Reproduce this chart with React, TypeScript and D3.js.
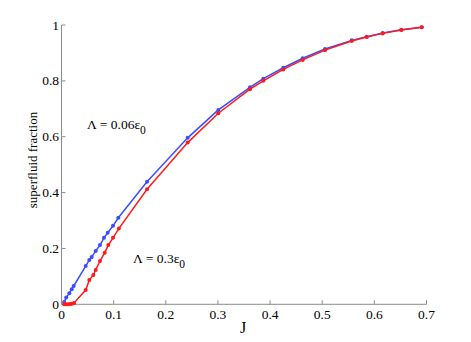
import { useEffect, useRef } from "react";
import * as d3 from "d3";

// Lambda = 0.06 eps0 (blue)
const blueJ = [0.005, 0.009, 0.015, 0.0196, 0.0234, 0.0464, 0.0533, 0.0579, 0.0656, 0.0738, 0.0815, 0.0886, 0.0988, 0.109, 0.164, 0.242, 0.3007, 0.3615, 0.387, 0.4254, 0.4626, 0.5054, 0.5566, 0.5853, 0.616, 0.6517, 0.6908];
const blueF = [0.008, 0.024, 0.04, 0.054, 0.0655, 0.137, 0.159, 0.169, 0.191, 0.212, 0.238, 0.256, 0.281, 0.31, 0.439, 0.596, 0.696, 0.777, 0.808, 0.847, 0.881, 0.914, 0.945, 0.958, 0.971, 0.983, 0.992];

// Lambda = 0.3 eps0 (red)
const redJ = [0.005, 0.009, 0.013, 0.017, 0.02, 0.024, 0.0464, 0.0533, 0.061, 0.0656, 0.0738, 0.0829, 0.0898, 0.0988, 0.11, 0.164, 0.242, 0.3007, 0.3615, 0.387, 0.4254, 0.4626, 0.5054, 0.5566, 0.5853, 0.616, 0.6517, 0.6908];
const redF = [0.0, 0.0, 0.0, 0.001, 0.002, 0.005, 0.051, 0.087, 0.105, 0.123, 0.155, 0.185, 0.212, 0.238, 0.271, 0.412, 0.579, 0.684, 0.77, 0.8, 0.841, 0.875, 0.91, 0.943, 0.957, 0.97, 0.982, 0.992];

const xTicks = [0, 0.1, 0.2, 0.3, 0.4, 0.5, 0.6, 0.7];
const yTicks = [0, 0.2, 0.4, 0.6, 0.8, 1];

export default function App() {
  const ref = useRef<SVGSVGElement>(null);

  useEffect(() => {
    const svg = d3.select(ref.current);
    svg.selectAll("*").remove();

    const x = d3.scaleLinear().domain([0, 0.7]).range([61.5, 426.5]);
    const y = d3.scaleLinear().domain([0, 1]).range([304.3, 25]);
    const font = "Liberation Serif, serif";
    const axisColor = "#8c8c8c";

    svg.attr("font-family", font);

    // axes (left + bottom only)
    svg.append("line")
      .attr("x1", x(0)).attr("x2", x(0.7)).attr("y1", y(0)).attr("y2", y(0))
      .attr("stroke", axisColor);
    svg.append("line")
      .attr("x1", x(0)).attr("x2", x(0)).attr("y1", y(0)).attr("y2", y(1))
      .attr("stroke", axisColor);

    xTicks.forEach((t) => {
      svg.append("line")
        .attr("x1", x(t)).attr("x2", x(t)).attr("y1", y(0)).attr("y2", y(0) - 4)
        .attr("stroke", axisColor);
      svg.append("text")
        .attr("x", x(t)).attr("y", 319)
        .attr("text-anchor", "middle")
        .attr("font-family", font).attr("font-size", 13.5)
        .text(String(t));
    });
    yTicks.forEach((t) => {
      svg.append("line")
        .attr("x1", x(0)).attr("x2", x(0) + 4).attr("y1", y(t)).attr("y2", y(t))
        .attr("stroke", axisColor);
      svg.append("text")
        .attr("x", 59).attr("y", y(t) + 4.5)
        .attr("text-anchor", "end")
        .attr("font-family", font).attr("font-size", 13.5)
        .text(String(t));
    });

    svg.append("text")
      .attr("x", 243).attr("y", 333)
      .attr("text-anchor", "middle")
      .attr("font-family", font).attr("font-size", 16)
      .text("J");
    svg.append("text")
      .attr("transform", "translate(37,160) rotate(-90)")
      .attr("text-anchor", "middle")
      .attr("font-family", font).attr("font-size", 13)
      .text("superfluid fraction");

    const series = [
      { xs: blueJ, ys: blueF, color: "#3b4cff" },
      { xs: redJ, ys: redF, color: "#ff1a1a" },
    ];
    const line = d3.line<[number, number]>()
      .x((d) => x(d[0]))
      .y((d) => y(d[1]));

    series.forEach((s) => {
      const pts: [number, number][] = s.xs.map((v, i) => [v, s.ys[i]]);
      svg.append("path")
        .datum(pts)
        .attr("d", line)
        .attr("fill", "none")
        .attr("stroke", s.color)
        .attr("stroke-width", 1.5);
      svg.selectAll(null)
        .data(pts)
        .enter()
        .append("circle")
        .attr("cx", (d) => x(d[0]))
        .attr("cy", (d) => y(d[1]))
        .attr("r", 2)
        .attr("fill", s.color);
    });

    // annotations
    const ann = [
      { tx: 87, ty: 129, txt: "\u039B = 0.06\u03B5" },
      { tx: 133, ty: 262.7, txt: "\u039B = 0.3\u03B5" },
    ];
    ann.forEach((a) => {
      const t = svg.append("text")
        .attr("x", a.tx).attr("y", a.ty)
        .attr("font-family", font).attr("font-size", 13.5);
      t.append("tspan").text(a.txt);
      t.append("tspan").attr("dy", 5).attr("font-size", 11.5).text("0");
    });
  }, []);

  return (
    <svg
      ref={ref}
      width={471}
      height={342}
      style={{ position: "absolute", left: 0, top: 0, background: "#fff" }}
    />
  );
}
